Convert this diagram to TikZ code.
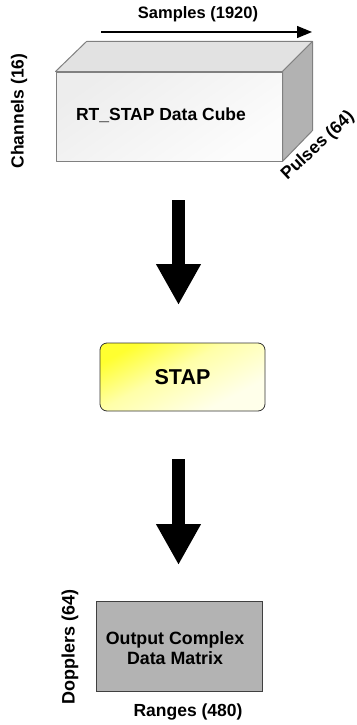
\documentclass[tikz,border=0pt]{standalone}
\usepackage{fontspec}
\setmainfont{Liberation Sans}
\usetikzlibrary{arrows.meta}
\definecolor{edgegray}{HTML}{808080}
\definecolor{topgray}{HTML}{E2E2E2}
\definecolor{sidegray}{HTML}{B2B2B2}
\definecolor{matrixgray}{HTML}{B3B3B3}
\definecolor{stapyellow}{HTML}{FFFF30}
\definecolor{stapmid}{HTML}{FFFFA8}
\definecolor{stappale}{HTML}{FFFFEA}
% diagonal yellow fade for the processing box
\pgfdeclareverticalshading{stapshade}{100bp}{color(0bp)=(stappale); color(30bp)=(stappale);
  color(55bp)=(stapmid); color(75bp)=(stapyellow); color(100bp)=(stapyellow)}
\tikzset{
  lbl/.style={font=\fontsize{17.5}{20}\selectfont\bfseries, inner sep=0pt},
  face/.style={draw=edgegray, line width=1pt, line join=round},
  bigarrow/.style={line width=12.5pt, -{Triangle[width=42pt,length=41pt]}},
  dimarrow/.style={line width=1.2pt, -{Triangle[width=12pt,length=15pt]}},
}
\begin{document}
\begin{tikzpicture}[x=1pt,y=-1pt]
\useasboundingbox (0,0) rectangle (356,725);

% data cube: front face, then top and side faces
\node[face, minimum width=226pt, minimum height=89pt, inner sep=0pt,
      top color=gray!14, bottom color=gray!2, shading angle=35] (cube) at (169,116.5) {};
\draw[face, fill=topgray] (cube.north west) -- ([shift={(31,-30)}]cube.north west)
  -- ([shift={(30,-30)}]cube.north east) -- (cube.north east) -- cycle;
\draw[face, fill=sidegray] (cube.north east) -- ([shift={(30,-30)}]cube.north east)
  -- ([shift={(30,-31)}]cube.south east) -- (cube.south east) -- cycle;
\node[lbl] (cubetext) at (161,115) {RT\_STAP Data Cube};

% cube dimensions
\coordinate (sampstart) at (101,32);
\coordinate (sampend) at (312,32);
\draw[dimarrow] (sampstart) -- (sampend);
\node[lbl, font=\fontsize{16.5}{19}\selectfont\bfseries] (samples) at (198,14) {Samples (1920)};
\node[lbl, rotate=90] (channels) at (19,111) {Channels (16)};
\node[lbl, rotate=43] (pulses) at (318,146) {Pulses (64)};

% processing step
\node[draw=black!80, line width=0.8pt, rounded corners=7pt,
      minimum width=165pt, minimum height=68pt, inner sep=0pt,
      shading=stapshade, shading angle=28] (stap) at (182.5,377)
      {\fontsize{21.5}{24}\selectfont\bfseries STAP};

% output matrix
\node[draw=black!75, line width=1pt, fill=matrixgray,
      minimum width=166pt, minimum height=90pt, inner sep=0pt] (matrix) at (179,646) {};
\node[lbl, align=center, font=\fontsize{17.8}{20.5}\selectfont\bfseries] (matrixtext) at (175,648)
      {Output Complex\\Data Matrix};
\node[lbl, rotate=90, font=\fontsize{18}{20}\selectfont\bfseries] (dopplers) at (70,647) {Dopplers (64)};
\node[lbl] (ranges) at (188,712) {Ranges (480)};

% flow arrows
\coordinate (a1s) at (178.5,200);
\coordinate (a1e) at (178.5,305);
\coordinate (a2s) at (178.5,459);
\coordinate (a2e) at (178.5,565);
\draw[bigarrow] (a1s) -- (a1e);
\draw[bigarrow] (a2s) -- (a2e);
\end{tikzpicture}
\end{document}
